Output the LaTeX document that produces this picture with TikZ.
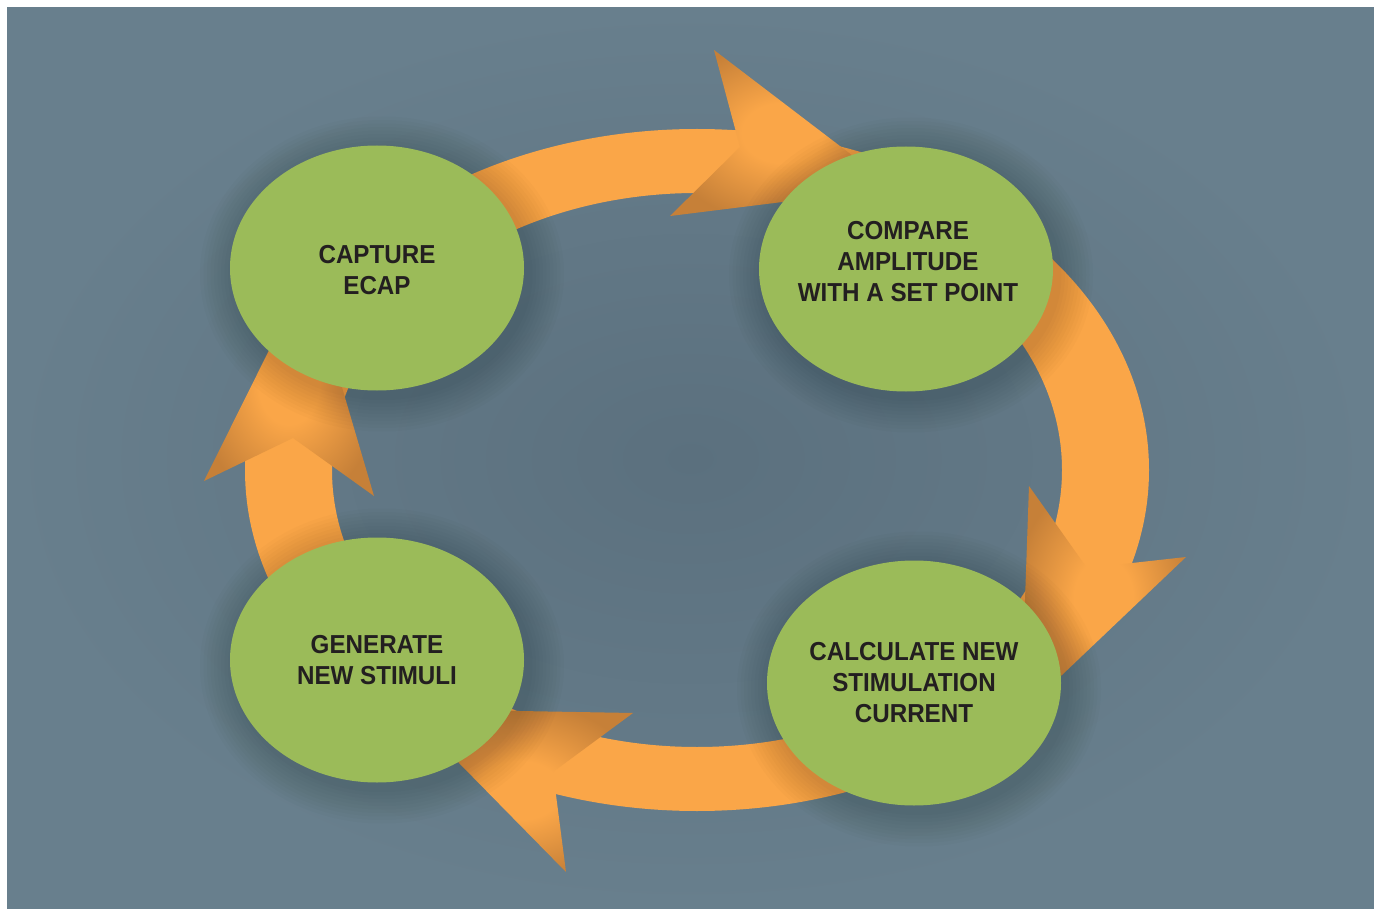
\documentclass[tikz,border=0pt]{standalone}
\usepackage{fontspec}
\setmainfont{Liberation Sans}[FakeStretch=0.93]
\usetikzlibrary{shapes.geometric}
\definecolor{bgout}{RGB}{104,127,141}
\definecolor{bgin}{RGB}{91,112,126}
\definecolor{orL}{RGB}{250,166,72}
\definecolor{orD}{RGB}{198,128,56}
\definecolor{grn}{RGB}{155,187,89}
\definecolor{txt}{RGB}{35,31,32}
\pgfdeclareradialshading{headshade}{\pgfpoint{0bp}{0bp}}{color(0bp)=(orL); color(9bp)=(orL); color(27bp)=(orD); color(50bp)=(orD)}
\tikzset{
  blob/.style={ellipse, fill=grn, draw=none, inner sep=0pt, minimum width=294pt, minimum height=245pt},
  lbl/.style={align=center, text=txt, inner sep=0pt, font=\bfseries\fontsize{26}{31}\selectfont},
  ring/.style={fill=orL, even odd rule},
  head/.style={shading=headshade},
  shadowlayer/.style={fill=black, opacity=0.014}
}
\begin{document}
\begin{tikzpicture}[x=1pt,y=-1pt]
\useasboundingbox (0,0) rectangle (1374,909);
\fill[white] (0,0) rectangle (1374,909);
\shade[inner color=bgin, outer color=bgout] (7,8) rectangle (1374,909);
% ring
\fill[ring] (697,470) ellipse [x radius=452pt, y radius=341pt]
            (697,470) ellipse [x radius=365pt, y radius=277pt];
% arrowheads
\shade[head] (895,188) -- (714,50) -- (740,147) -- (670,216) -- cycle;
\shade[head] (1021,714) -- (1029,486) -- (1087,568) -- (1186,557) -- cycle;
\shade[head] (406,709) -- (633,713) -- (553,772) -- (566,872) -- cycle;
\shade[head] (308,272) -- (204,481) -- (293,438) -- (374,496) -- cycle;
% shadows
\foreach \cx/\cy in {377/268, 906/269, 914/683, 377/660}{
  \foreach \i in {1,...,10}{
    \fill[shadowlayer] (\cx+5,\cy+6) ellipse [x radius={147pt+3.5pt*\i}, y radius={122.5pt+3.5pt*\i}];
  }
}
% ellipses
\node[blob] (cap) at (377,268) {};
\node[blob] (cmp) at (906,269) {};
\node[blob] (calc) at (914,683) {};
\node[blob] (gen) at (377,660) {};
% labels
\node[lbl, yshift=-2pt] (capT) at (cap) {CAPTURE\\ECAP};
\node[lbl, xshift=2pt, yshift=7pt] (cmpT) at (cmp) {COMPARE\\AMPLITUDE\\WITH A SET POINT};
\node[lbl] (calcT) at (calc) {CALCULATE NEW\\STIMULATION\\CURRENT};
\node[lbl] (genT) at (gen) {GENERATE\\NEW STIMULI};
\end{tikzpicture}
\end{document}
